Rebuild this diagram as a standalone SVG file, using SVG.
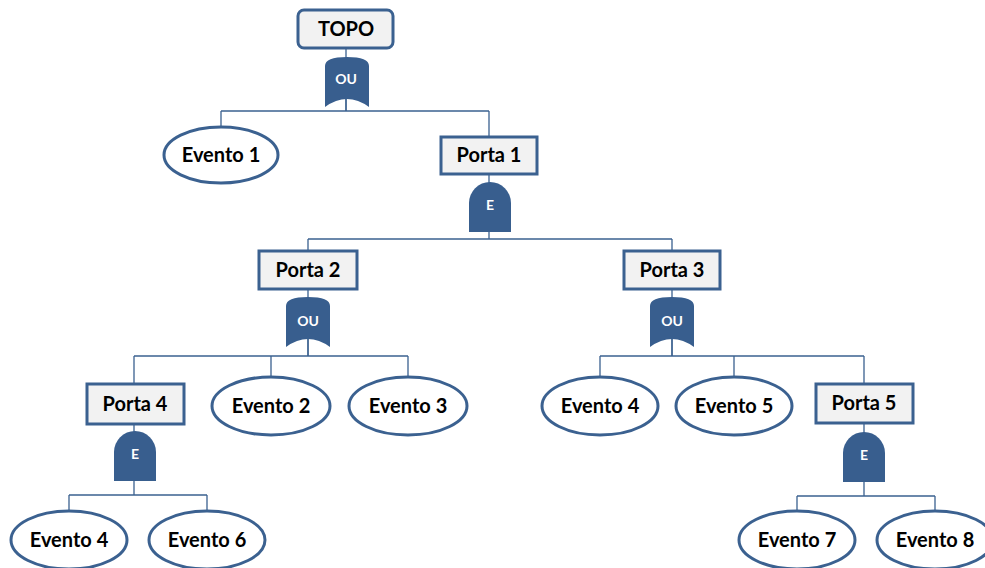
<svg xmlns="http://www.w3.org/2000/svg" width="985" height="568" viewBox="0 0 985 568">
<style>
.box{fill:#F2F2F2;stroke:#3B6190;stroke-width:3}
.ev{fill:#FFFFFF;stroke:#3B6190;stroke-width:3}
.gate{fill:#385E8E}
.lbl{font-family:Lato,"Liberation Sans",sans-serif;font-weight:bold;font-size:20px;fill:#000;text-anchor:middle}
.glbl{font-family:Lato,"Liberation Sans",sans-serif;font-weight:bold;font-size:14px;fill:#FFFFFF;text-anchor:middle}
.con{fill:none;stroke:#3B6190;stroke-width:1.3}
</style>
<defs>
<path id="orgate" d="M-22,9 Q-22,0 0,0 Q22,0 22,9 L22,50 Q0,34 -22,50 Z"/>
<path id="andgate" d="M-21,50 L-21,21 A21,21 0 0 1 21,21 L21,50 Z"/>
</defs>
<g id="connectors">
<path class="con" d="M346,48 V111 M221,111 H489 M221,111 V127 M489,111 V137"/>
<path class="con" d="M489,174 V239 M308,239 H672 M308,239 V251 M672,239 V251"/>
<path class="con" d="M308,289 V356 M134,356 H408 M134,356 V383 M271,356 V376 M408,356 V376"/>
<path class="con" d="M672,289 V356 M600,356 H864 M600,356 V376 M734,356 V376 M864,356 V384"/>
<path class="con" d="M134,424 V495 M69,495 H207 M69,495 V511 M207,495 V511"/>
<path class="con" d="M864,423 V496 M797,496 H935 M797,496 V511 M935,496 V511"/>
</g>
<g id="topo">
<rect class="box" x="298" y="10" width="95" height="38" rx="6"/>
<text class="lbl" x="346" y="36">TOPO</text>
</g>
<g id="gate-ou1">
<use href="#orgate" class="gate" transform="translate(347,57)"/>
<path class="con" d="M346,98 V111"/>
<text class="glbl" x="346" y="84">OU</text>
</g>
<g id="evento1">
<ellipse class="ev" cx="221" cy="155" rx="57" ry="28"/>
<text class="lbl" x="221" y="162">Evento 1</text>
</g>
<g id="porta1">
<rect class="box" x="441" y="137" width="96" height="37"/>
<text class="lbl" x="489" y="162">Porta 1</text>
</g>
<g id="gate-e1">
<use href="#andgate" class="gate" transform="translate(490,182)"/>
<text class="glbl" x="490" y="210">E</text>
</g>
<g id="porta2">
<rect class="box" x="259" y="251" width="98" height="38"/>
<text class="lbl" x="308" y="277">Porta 2</text>
</g>
<g id="gate-ou2">
<use href="#orgate" class="gate" transform="translate(308,297)"/>
<path class="con" d="M308,338 V356"/>
<text class="glbl" x="308" y="326">OU</text>
</g>
<g id="porta3">
<rect class="box" x="624" y="251" width="96" height="38"/>
<text class="lbl" x="672" y="277">Porta 3</text>
</g>
<g id="gate-ou3">
<use href="#orgate" class="gate" transform="translate(672,297)"/>
<path class="con" d="M672,338 V356"/>
<text class="glbl" x="672" y="326">OU</text>
</g>
<g id="porta4">
<rect class="box" x="87" y="384" width="97" height="40"/>
<text class="lbl" x="135" y="411">Porta 4</text>
</g>
<g id="gate-e4">
<use href="#andgate" class="gate" transform="translate(135,431)"/>
<text class="glbl" x="135" y="459">E</text>
</g>
<g id="evento2">
<ellipse class="ev" cx="271" cy="406" rx="59" ry="29"/>
<text class="lbl" x="271" y="413">Evento 2</text>
</g>
<g id="evento3">
<ellipse class="ev" cx="408" cy="406" rx="59" ry="29"/>
<text class="lbl" x="408" y="413">Evento 3</text>
</g>
<g id="evento4a">
<ellipse class="ev" cx="600" cy="406" rx="58" ry="29"/>
<text class="lbl" x="600" y="413">Evento 4</text>
</g>
<g id="evento5">
<ellipse class="ev" cx="734" cy="406" rx="58" ry="29"/>
<text class="lbl" x="734" y="413">Evento 5</text>
</g>
<g id="porta5">
<rect class="box" x="816" y="384" width="97" height="39"/>
<text class="lbl" x="864" y="410">Porta 5</text>
</g>
<g id="gate-e5">
<use href="#andgate" class="gate" transform="translate(864,432)"/>
<text class="glbl" x="864" y="460">E</text>
</g>
<g id="evento4b">
<ellipse class="ev" cx="69" cy="540" rx="58" ry="29"/>
<text class="lbl" x="69" y="547">Evento 4</text>
</g>
<g id="evento6">
<ellipse class="ev" cx="207" cy="540" rx="58" ry="29"/>
<text class="lbl" x="207" y="547">Evento 6</text>
</g>
<g id="evento7">
<ellipse class="ev" cx="797" cy="540" rx="58" ry="29"/>
<text class="lbl" x="797" y="547">Evento 7</text>
</g>
<g id="evento8">
<ellipse class="ev" cx="935" cy="540" rx="58" ry="29"/>
<text class="lbl" x="935" y="547">Evento 8</text>
</g>
</svg>
